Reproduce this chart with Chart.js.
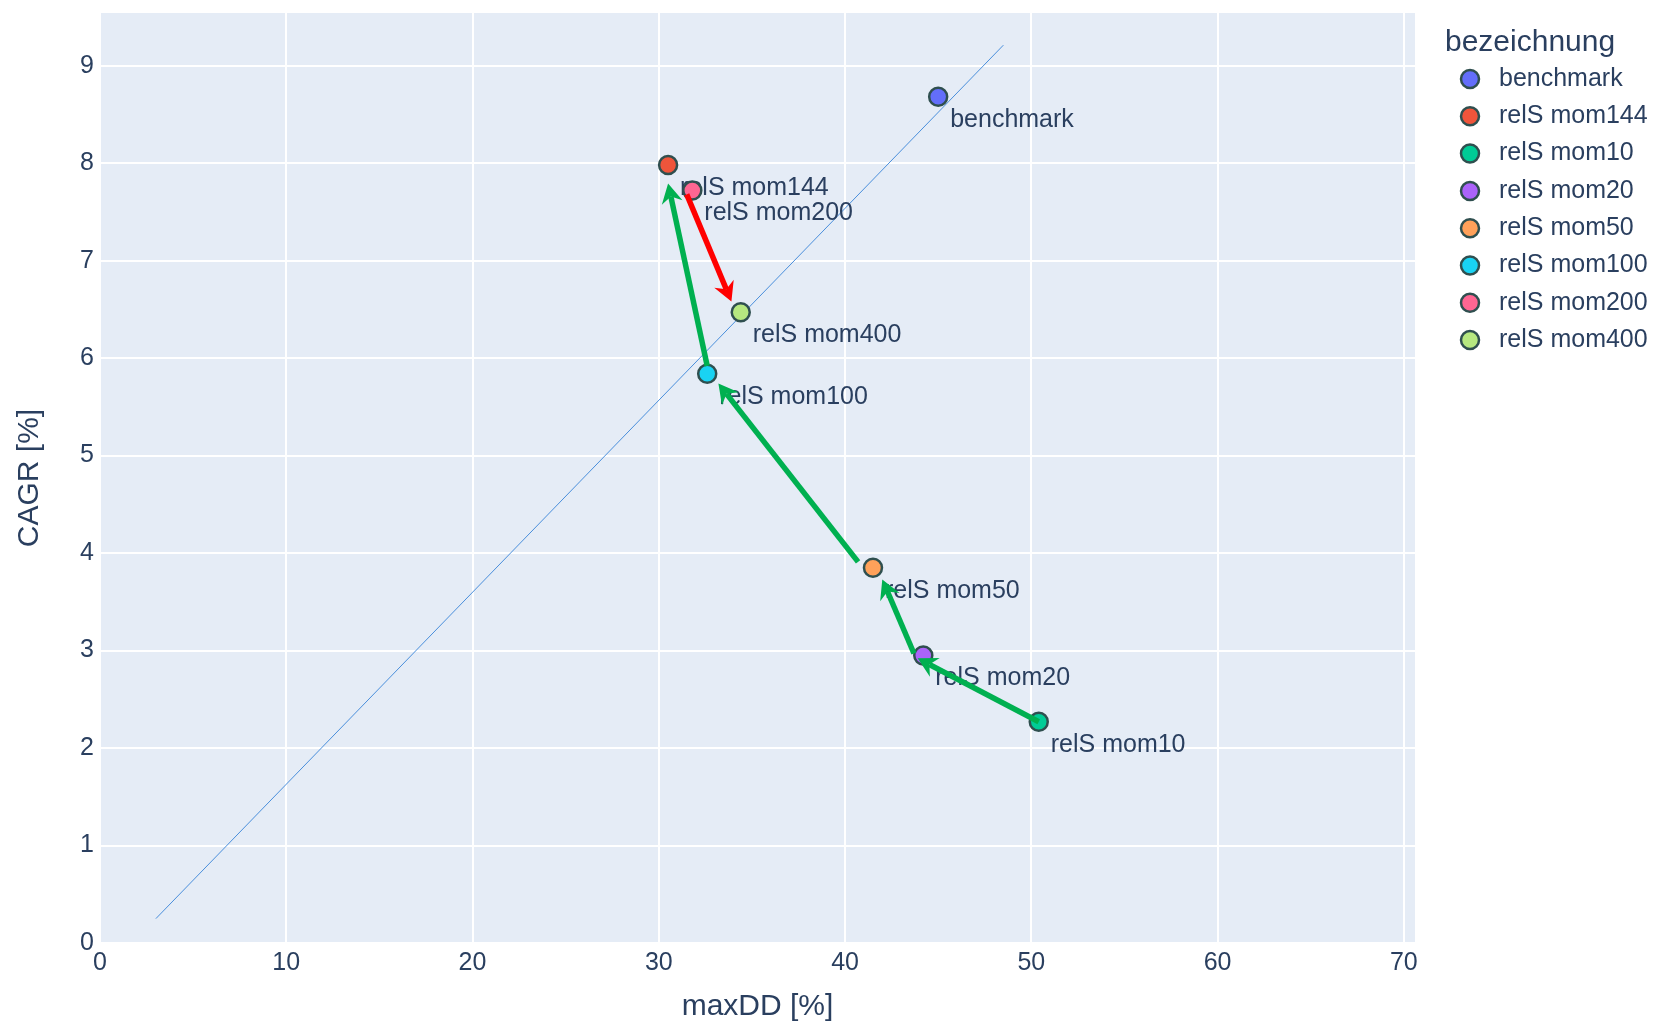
<html>

<head>
  <script src="https://cdn.jsdelivr.net/npm/chart.js@4.4.0/dist/chart.umd.min.js"></script>
  <style>
    body { margin: 0; background: #fff; }
  </style>
</head>

<body>
  <canvas id="myChart" width="1656" height="1025"></canvas>
</body>

<script>
  // series data
  const categories = ['benchmark', 'relS mom144', 'relS mom10', 'relS mom20', 'relS mom50', 'relS mom100', 'relS mom200', 'relS mom400'];
  const maxDD = [45.0, 30.5, 50.4, 44.2, 41.5, 32.6, 31.8, 34.4];
  const cagr = [8.68, 7.98, 2.27, 2.95, 3.85, 5.84, 7.72, 6.47];
  const colors = ['#636efa', '#EF553B', '#00cc96', '#ab63fa', '#FFA15A', '#19d3f3', '#FF6692', '#B6E880'];

  // reference diagonal
  const diagX = [3.0, 48.5];
  const diagY = [0.25, 9.21];

  // arrows (data coords)
  const arrowFromX = [50.4, 43.7, 40.7, 32.6, 31.5];
  const arrowFromY = [2.27, 2.97, 3.91, 5.92, 7.68];
  const arrowToX = [43.9, 42.0, 33.2, 30.5, 33.9];
  const arrowToY = [2.92, 3.73, 5.74, 7.79, 6.58];
  const arrowColors = ['#00b050', '#00b050', '#00b050', '#00b050', '#ff0000'];

  const xTicks = [0, 10, 20, 30, 40, 50, 60, 70];
  const yTicks = [0, 1, 2, 3, 4, 5, 6, 7, 8, 9];
  const legendTitle = 'bezeichnung';

  const fontFamily = '"Liberation Sans", Arial, sans-serif';
  const textColor = '#2a3f5f';
  const markerLine = '#2F4F4F';

  const datasets = categories.map((name, i) => ({
    label: name,
    data: [{ x: maxDD[i], y: cagr[i] }],
    backgroundColor: colors[i],
    borderColor: markerLine,
    pointRadius: 9,
    pointHoverRadius: 9,
    pointBorderWidth: 2.5,
    order: categories.length - i
  }));
  datasets.push({
    label: '_diag',
    type: 'line',
    data: diagX.map((x, i) => ({ x: x, y: diagY[i] })),
    borderColor: '#4a8fdc',
    borderWidth: 1,
    pointRadius: 0,
    fill: false,
    order: 100
  });

  const pointLabels = {
    id: 'pointLabels',
    afterDatasetDraw(chart, args) {
      const i = args.index;
      if (i >= categories.length) return;
      const pt = args.meta.data[0];
      const ctx = chart.ctx;
      ctx.save();
      ctx.font = '25px ' + fontFamily;
      ctx.fillStyle = textColor;
      ctx.textBaseline = 'middle';
      ctx.textAlign = 'left';
      ctx.fillText(categories[i], pt.x + 12, pt.y + 23);
      ctx.restore();
    }
  };

  const arrows = {
    id: 'arrows',
    afterDatasetsDraw(chart) {
      const xs = chart.scales.x, ys = chart.scales.y;
      const ctx = chart.ctx;
      ctx.save();
      for (let i = 0; i < arrowFromX.length; i++) {
        const x0 = xs.getPixelForValue(arrowFromX[i]), y0 = ys.getPixelForValue(arrowFromY[i]);
        const x1 = xs.getPixelForValue(arrowToX[i]), y1 = ys.getPixelForValue(arrowToY[i]);
        const a = Math.atan2(y1 - y0, x1 - x0);
        const head = 22, spread = 0.5;
        ctx.strokeStyle = arrowColors[i];
        ctx.fillStyle = arrowColors[i];
        ctx.lineWidth = 5.5;
        ctx.beginPath();
        ctx.moveTo(x0, y0);
        ctx.lineTo(x1 - Math.cos(a) * head * 0.6, y1 - Math.sin(a) * head * 0.6);
        ctx.stroke();
        ctx.beginPath();
        ctx.moveTo(x1, y1);
        ctx.lineTo(x1 - head * Math.cos(a - spread), y1 - head * Math.sin(a - spread));
        ctx.lineTo(x1 - head * 0.6 * Math.cos(a), y1 - head * 0.6 * Math.sin(a));
        ctx.lineTo(x1 - head * Math.cos(a + spread), y1 - head * Math.sin(a + spread));
        ctx.closePath();
        ctx.fill();
      }
      ctx.restore();
    }
  };

  const plotBg = {
    id: 'plotBg',
    beforeDraw(chart) {
      const a = chart.chartArea;
      chart.ctx.save();
      chart.ctx.fillStyle = '#E5ECF6';
      chart.ctx.fillRect(a.left, a.top, a.right - a.left, a.bottom - a.top);
      chart.ctx.restore();
    }
  };

  // legend on the right, plotly style
  const sideLegend = {
    id: 'sideLegend',
    afterDraw(chart) {
      const ctx = chart.ctx;
      const left = chart.chartArea.right + 30;
      ctx.save();
      ctx.textBaseline = 'middle';
      ctx.textAlign = 'left';
      ctx.fillStyle = textColor;
      ctx.font = '30px ' + fontFamily;
      ctx.fillText(legendTitle, left, 43);
      ctx.font = '25px ' + fontFamily;
      categories.forEach((name, i) => {
        const y = 79 + i * 37.3;
        ctx.beginPath();
        ctx.arc(left + 25, y, 9, 0, Math.PI * 2);
        ctx.fillStyle = colors[i];
        ctx.fill();
        ctx.lineWidth = 2.5;
        ctx.strokeStyle = markerLine;
        ctx.stroke();
        ctx.fillStyle = textColor;
        ctx.fillText(name, left + 54, y);
      });
      ctx.restore();
    }
  };

  const ctx = document.getElementById('myChart').getContext('2d');
  const chart = new Chart(ctx, {
    type: 'scatter',
    data: { datasets },
    plugins: [plotBg, pointLabels, arrows, sideLegend],
    options: {
      responsive: false,
      animation: false,
      layout: { padding: { top: 13, left: 0, right: 241, bottom: 0 } },
      plugins: {
        tooltip: { enabled: false },
        legend: { display: false }
      },
      scales: {
        x: {
          type: 'linear',
          min: 0,
          max: 70.6,
          afterBuildTicks: s => { s.ticks = xTicks.map(v => ({ value: v })); },
          afterFit: s => { s.height = 82; s.paddingLeft = 0; s.paddingRight = 0; },
          grid: { color: '#ffffff', lineWidth: 2, drawTicks: false },
          border: { display: false },
          ticks: { color: textColor, font: { family: fontFamily, size: 25 }, padding: 5, maxRotation: 0 },
          title: { display: true, text: 'maxDD [%]', color: textColor, font: { family: fontFamily, size: 30 }, padding: { top: 0, bottom: 0 } }
        },
        y: {
          type: 'linear',
          min: 0,
          max: 9.54,
          afterBuildTicks: s => { s.ticks = yTicks.map(v => ({ value: v })); },
          afterFit: s => { s.width = 100; s.paddingTop = 0; s.paddingBottom = 0; },
          grid: { color: '#ffffff', lineWidth: 2, drawTicks: false },
          border: { display: false },
          ticks: { color: textColor, font: { family: fontFamily, size: 25 }, padding: 6 },
          title: { display: true, text: 'CAGR [%]', color: textColor, font: { family: fontFamily, size: 30 }, padding: { top: 12, bottom: 0 } }
        }
      }
    }
  });
</script>

</html>
